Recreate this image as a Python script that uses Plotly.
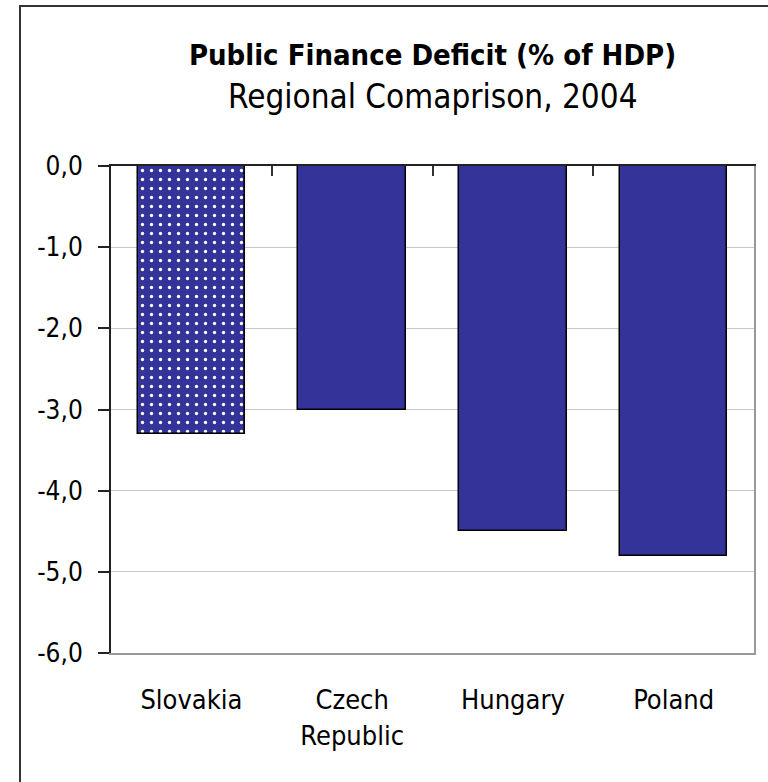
import plotly.graph_objects as go

# Public finance deficit, % of GDP (HDP), 2004
countries = ["Slovakia", "Czech<br>Republic", "Hungary", "Poland"]
deficit = [-3.3, -3.0, -4.5, -4.8]
y_ticks = [0, -1, -2, -3, -4, -5, -6]
y_tick_labels = ["0,0", "-1,0", "-2,0", "-3,0", "-4,0", "-5,0", "-6,0"]

BAR_BLUE = "#333399"
FONT = "Liberation Sans Narrow, Arial Narrow, DejaVu Sans Condensed, sans-serif"

fig = go.Figure()

# Slovakia is highlighted with a dotted fill, the rest are solid
fig.add_trace(go.Bar(
    x=[0, 1, 2, 3],
    y=deficit,
    width=0.67,
    marker=dict(
        color=BAR_BLUE,
        line=dict(color="black", width=1.5),
        pattern=dict(
            shape=[".", "", "", ""],
            fgcolor="white",
            bgcolor=BAR_BLUE,
            size=9,
            solidity=0.11,
            fillmode="replace",
        ),
    ),
    showlegend=False,
    hoverinfo="skip",
))

# invisible trace to bring in the secondary axes (top x-axis at zero, right frame)
fig.add_trace(go.Scatter(x=[None], y=[None], xaxis="x2", yaxis="y2",
                         showlegend=False, hoverinfo="skip"))

fig.update_layout(
    width=768,
    height=782,
    margin=dict(l=111, r=14, t=166, b=129),
    paper_bgcolor="white",
    plot_bgcolor="white",
    font=dict(family=FONT, color="black"),
    bargap=0,
    title=dict(
        text="<b>Public Finance Deficit (% of HDP)</b>",
        font=dict(family=FONT, size=29, color="black"),
        x=0.5, xref="paper", xanchor="center",
        y=1 - 55 / 782, yref="container", yanchor="middle",
    ),
    xaxis=dict(
        range=[-0.5, 3.5],
        tickvals=[0, 1, 2, 3],
        ticktext=countries,
        ticks="",
        showgrid=False,
        zeroline=False,
        showline=True,
        linecolor="#999999",
        linewidth=2,
        tickfont=dict(family=FONT, size=27, color="black"),
        ticklabelstandoff=22,
    ),
    xaxis2=dict(
        overlaying="x",
        side="top",
        range=[-0.5, 3.5],
        tickvals=[0.5, 1.5, 2.5],
        ticks="inside",
        ticklen=10,
        tickwidth=1.5,
        tickcolor="#333333",
        showticklabels=False,
        showgrid=False,
        zeroline=False,
        showline=True,
        linecolor="#222222",
        linewidth=2,
    ),
    yaxis=dict(
        range=[-6, 0],
        tickvals=y_ticks,
        ticktext=y_tick_labels,
        ticks="outside",
        ticklen=11,
        tickwidth=1.5,
        tickcolor="#222222",
        showgrid=True,
        gridcolor="#c8c8c8",
        gridwidth=1,
        zeroline=False,
        showline=True,
        linecolor="#222222",
        linewidth=2,
        tickfont=dict(family=FONT, size=26, color="black"),
        ticklabelstandoff=10,
    ),
    yaxis2=dict(
        overlaying="y",
        side="right",
        range=[-6, 0],
        showticklabels=False,
        ticks="",
        showgrid=False,
        zeroline=False,
        showline=True,
        linecolor="#999999",
        linewidth=2,
    ),
    annotations=[dict(
        text="Regional Comaprison, 2004",
        xref="paper", yref="paper",
        x=0.5, y=(653 - 97) / 487,
        xanchor="center", yanchor="middle",
        showarrow=False,
        font=dict(family=FONT, size=33, color="black"),
    )],
    shapes=[dict(
        type="rect", xref="paper", yref="paper",
        x0=(20 - 111) / 643, x1=(800 - 111) / 643,
        y0=(653 - 820) / 487, y1=(653 - 6) / 487,
        line=dict(color="#333333", width=2),
        fillcolor="rgba(0,0,0,0)",
        layer="below",
    )],
)

fig.write_html("out.html")
